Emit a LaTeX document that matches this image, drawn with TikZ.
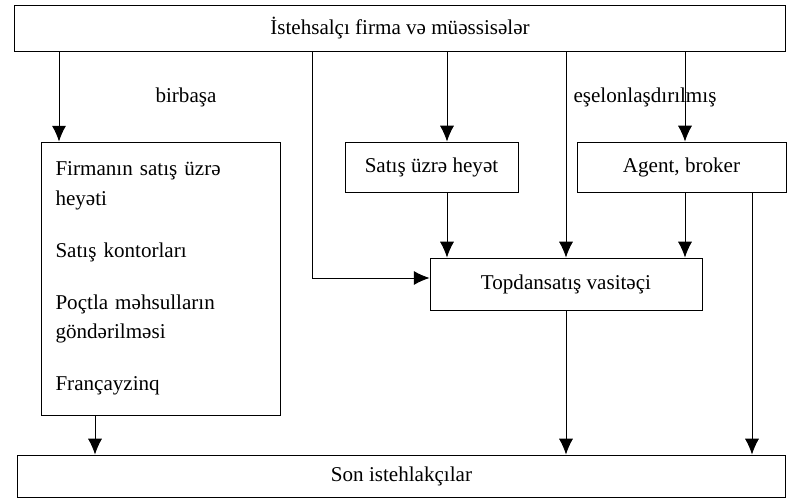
\documentclass[tikz,border=0pt]{standalone}
\usepackage{fontspec}
\setmainfont{Liberation Serif}
\usetikzlibrary{arrows.meta}

\begin{document}
\begin{tikzpicture}[x=0.02cm,y=-0.02cm,font=\fontsize{12}{17}\selectfont,
        box/.style={draw,line width=0.5pt,inner sep=2pt},
        arr/.style={-{Latex[length=9pt,width=8pt]},line width=0.5pt}]
    \useasboundingbox (0,0) rectangle (789,502);
    % boxes
    \node[box,minimum width=15.44cm,minimum height=0.92cm] (ist) at (400,28) {İstehsalçı firma və müəssisələr};
    \node[box,minimum width=4.78cm,minimum height=5.46cm,text width=4.2cm,align=left] (firm) at (160.5,278.5)
        {Firmanın satış üzrə\\ heyəti\\[12.5pt] Satış kontorları\\[12.5pt] Poçtla məhsulların\\ göndərilməsi\\[12.5pt] Françayzinq};
    \node[box,minimum width=3.46cm,minimum height=1.0cm] (sat) at (431.5,167) {Satış üzrə heyət};
    \node[box,minimum width=4.18cm,minimum height=1.0cm] (agent) at (681.5,167) {Agent, broker};
    \node[box,minimum width=5.44cm,minimum height=1.04cm] (topd) at (566,284) {Topdansatış vasitəçi};
    \node[box,minimum width=15.38cm,minimum height=0.84cm] (son) at (401.5,476) {Son istehlakçılar};
    % labels
    \node (direct) at (186,97) {birbaşa};
    \node (echelon) at (645,97) {eşelonlaşdırılmış};
    % columns of the connectors
    \coordinate (dx) at (59,0);
    \coordinate (sx) at (447,0);
    \coordinate (mx) at (566,0);
    \coordinate (ax) at (685,0);
    \coordinate (rx) at (752,0);
    \coordinate (fx) at (95,0);
    \coordinate (bend) at (312,278);
    % connectors
    \draw[arr] (ist.south -| dx) -- (firm.north -| dx);
    \draw[arr] (ist.south -| bend) -- (bend) -- (topd.west |- bend);
    \draw[arr] (ist.south -| sx) -- (sat.north -| sx);
    \draw[arr] (ist.south -| mx) -- (topd.north -| mx);
    \draw[arr] (ist.south -| ax) -- (agent.north -| ax);
    \draw[arr] (sat.south -| sx) -- (topd.north -| sx);
    \draw[arr] (agent.south -| ax) -- (topd.north -| ax);
    \draw[arr] (agent.south -| rx) -- (son.north -| rx);
    \draw[arr] (topd.south -| mx) -- (son.north -| mx);
    \draw[arr] (firm.south -| fx) -- (son.north -| fx);
\end{tikzpicture}
\end{document}
